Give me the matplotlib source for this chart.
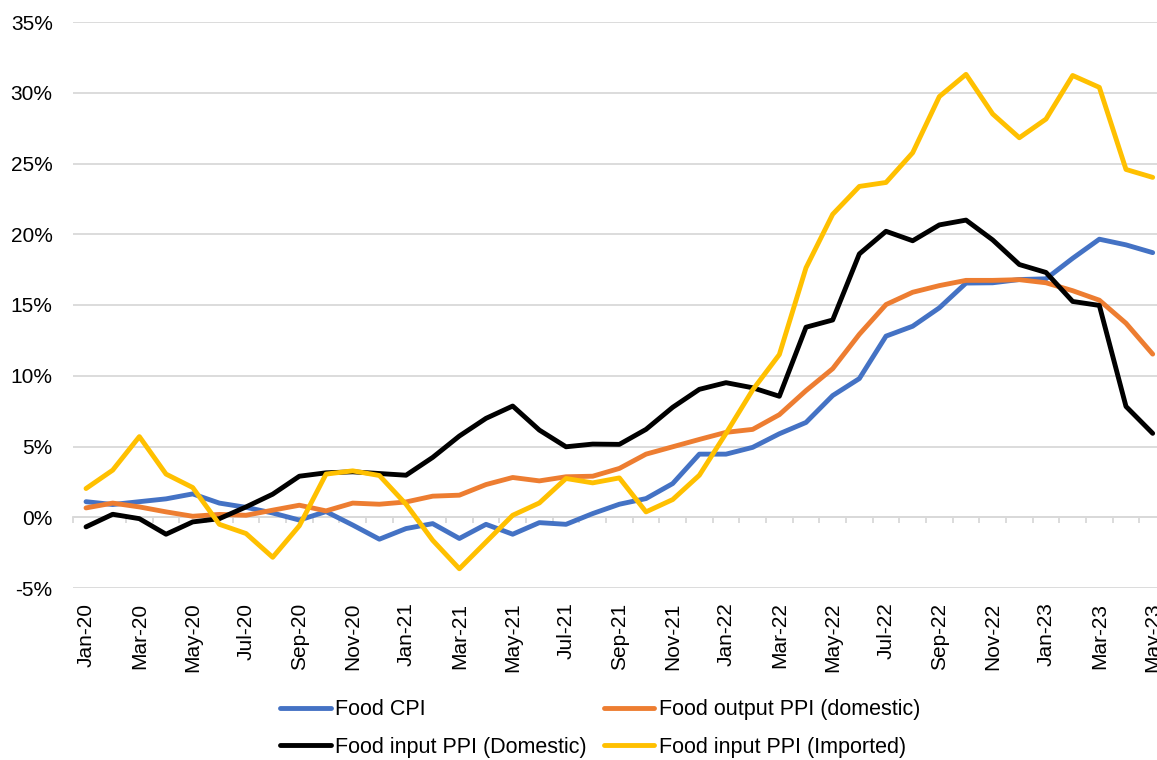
import matplotlib
matplotlib.use("Agg")
import matplotlib.pyplot as plt
from matplotlib.ticker import FixedLocator, FuncFormatter
import numpy as np

months = ["Jan-20", "Feb-20", "Mar-20", "Apr-20", "May-20", "Jun-20", "Jul-20", "Aug-20",
          "Sep-20", "Oct-20", "Nov-20", "Dec-20", "Jan-21", "Feb-21", "Mar-21", "Apr-21",
          "May-21", "Jun-21", "Jul-21", "Aug-21", "Sep-21", "Oct-21", "Nov-21", "Dec-21",
          "Jan-22", "Feb-22", "Mar-22", "Apr-22", "May-22", "Jun-22", "Jul-22", "Aug-22",
          "Sep-22", "Oct-22", "Nov-22", "Dec-22", "Jan-23", "Feb-23", "Mar-23", "Apr-23",
          "May-23"]

food_cpi = [1.1, 0.9, 1.1, 1.3, 1.65, 1.0, 0.7, 0.3, -0.2, 0.4, -0.55, -1.55, -0.8, -0.45,
            -1.5, -0.5, -1.2, -0.38, -0.5, 0.26, 0.92, 1.32, 2.38, 4.46, 4.46, 4.94, 5.9,
            6.7, 8.6, 9.8, 12.8, 13.5, 14.8, 16.55, 16.57, 16.8, 16.85, 18.3, 19.65, 19.25,
            18.7]

food_output_ppi = [0.66, 1.0, 0.73, 0.38, 0.07, 0.2, 0.14, 0.5, 0.85, 0.45, 1.0, 0.92, 1.08,
                   1.49, 1.56, 2.31, 2.81, 2.57, 2.86, 2.9, 3.45, 4.46, 4.98, 5.5, 6.0, 6.21,
                   7.25, 8.95, 10.5, 12.93, 15.03, 15.9, 16.37, 16.74, 16.74, 16.79, 16.57,
                   16.01, 15.34, 13.71, 11.53]

food_input_domestic = [-0.68, 0.21, -0.1, -1.2, -0.33, -0.1, 0.73, 1.63, 2.9, 3.14, 3.21,
                       3.09, 2.97, 4.23, 5.74, 6.99, 7.86, 6.16, 4.98, 5.17, 5.15, 6.21, 7.77,
                       9.04, 9.51, 9.15, 8.55, 13.43, 13.94, 18.61, 20.21, 19.54, 20.66, 21.0,
                       19.6, 17.86, 17.3, 15.25, 14.97, 7.83, 5.93]

food_input_imported = [2.03, 3.33, 5.7, 3.05, 2.1, -0.5, -1.15, -2.83, -0.6, 3.05, 3.28,
                       2.95, 0.92, -1.63, -3.64, -1.75, 0.14, 1.01, 2.74, 2.43, 2.78, 0.38,
                       1.25, 2.97, 5.93, 9.0, 11.5, 17.63, 21.41, 23.38, 23.66, 25.76, 29.73,
                       31.3, 28.5, 26.82, 28.14, 31.22, 30.38, 24.58, 24.02]

y_ticks = [-5, 0, 5, 10, 15, 20, 25, 30, 35]

plt.rcParams['font.family'] = ['Liberation Sans', 'DejaVu Sans']
FS = 15.0
LFS = 15.5
GRID = "#D9D9D9"

fig = plt.figure(figsize=(11.57, 7.6), dpi=100)
W, H = 1157, 760
left_px, right_px, top_px, bot_px = 72.7, 1166.0, 22.0, 588.0
ax = fig.add_axes([left_px / W, 1 - bot_px / H, (right_px - left_px) / W, (bot_px - top_px) / H])

x = np.arange(len(months))
series = [
    ("Food CPI", food_cpi, "#4472C4"),
    ("Food output PPI (domestic)", food_output_ppi, "#ED7D31"),
    ("Food input PPI (Domestic)", food_input_domestic, "#000000"),
    ("Food input PPI (Imported)", food_input_imported, "#FFC000"),
]
handles = {}
for name, vals, col in series:
    ln, = ax.plot(x, vals, color=col, lw=3.5, solid_joinstyle='round',
                  solid_capstyle='round', zorder=3, label=name)
    handles[name] = ln

ax.set_xlim(-0.5, len(months) - 0.5)
ax.set_ylim(-5, 35)
ax.set_yticks(y_ticks)
ax.yaxis.set_major_formatter(FuncFormatter(lambda v, p: f"{v:.0f}%"))
ax.grid(axis='y', color=GRID, lw=1.3, zorder=0)
ax.set_axisbelow(True)
for s in ax.spines.values():
    s.set_visible(False)

ax.tick_params(axis='y', length=0, pad=14.4, labelsize=FS, labelcolor="#000000")
ax.set_xticks(x[::2])
ax.set_xticklabels(months[::2], rotation=90, fontsize=FS)
ax.tick_params(axis='x', length=0, pad=10.5)

# horizontal category axis drawn through 0%
sec = ax.secondary_xaxis(5 / 40)
sec.spines['bottom'].set_color(GRID)
sec.spines['bottom'].set_linewidth(1.3)
sec.set_xticks([])
sec.xaxis.set_minor_locator(FixedLocator(np.arange(len(months) + 1) - 0.5))
sec.tick_params(axis='x', which='minor', length=4.3, width=1.3, color=GRID, direction='out')
sec.set_zorder(1)

order = ["Food CPI", "Food input PPI (Domestic)", "Food output PPI (domestic)",
         "Food input PPI (Imported)"]
fig.legend([handles[n] for n in order], order, loc='center',
           bbox_to_anchor=(600 / W, 1 - 728.5 / H), ncol=2, frameon=False, fontsize=LFS,
           handlelength=2.35, handletextpad=0.2, columnspacing=0.8, labelspacing=0.78,
           borderaxespad=0)

fig.savefig("out.png", dpi=100)
